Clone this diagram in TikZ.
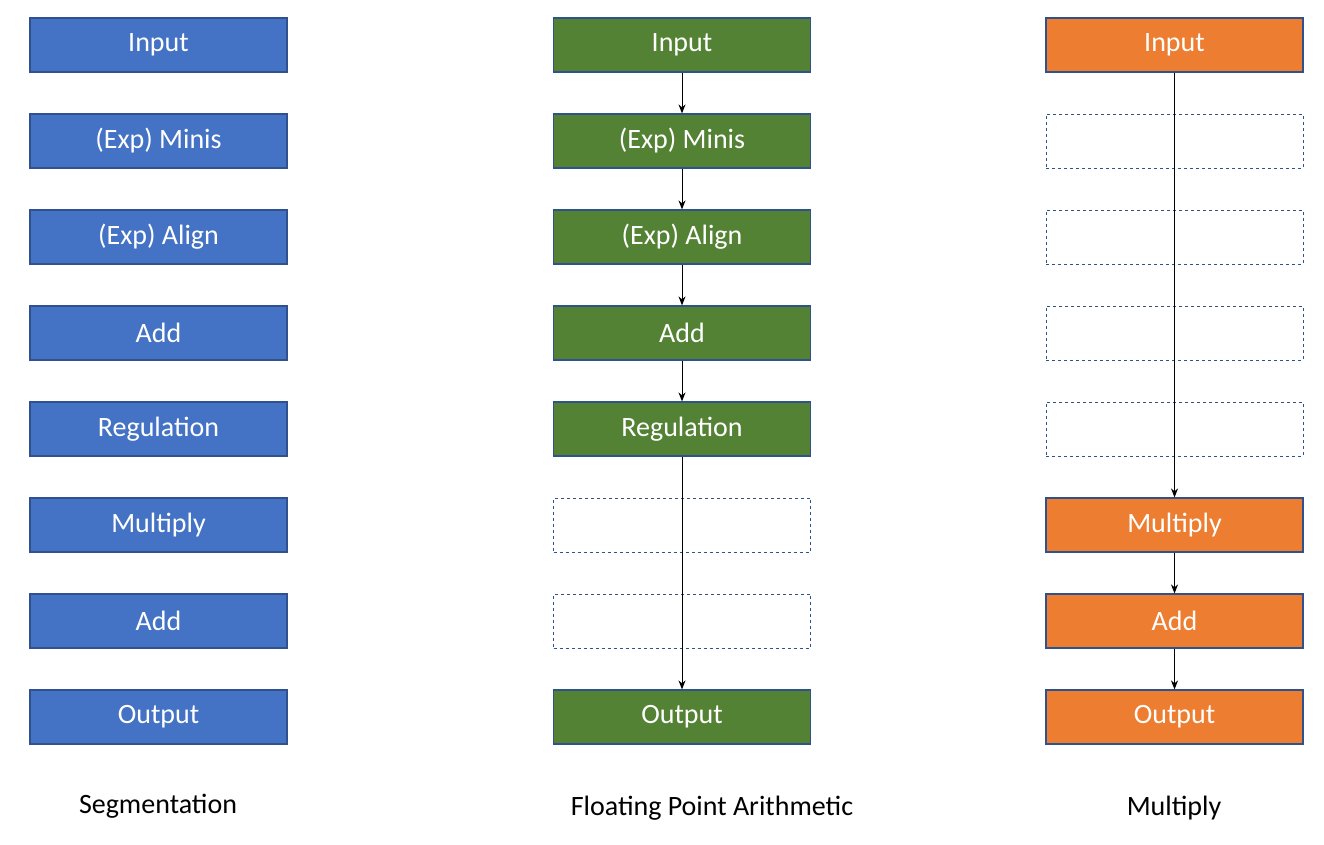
\documentclass[tikz,border=0pt]{standalone}
\usepackage{fontspec}
\setmainfont{Carlito}
\usetikzlibrary{arrows.meta}
\definecolor{cblue}{HTML}{4472C4}
\definecolor{cgreen}{HTML}{548235}
\definecolor{corange}{HTML}{ED7D31}
\definecolor{cedge}{HTML}{2F528F}
\begin{document}
\begin{tikzpicture}[x=1pt,y=-1pt,
  box/.style={draw=cedge,line width=1.2pt,minimum width=257pt,minimum height=54pt,inner sep=0pt,text=white,font=\fontsize{28}{32}\selectfont},
  bbox/.style={box,fill=cblue},
  gbox/.style={box,fill=cgreen},
  obox/.style={box,fill=corange},
  dbox/.style={box,fill=white,dashed,line width=1pt},
  lab/.style={font=\fontsize{28}{32}\selectfont},
  arr/.style={-{Stealth[length=9pt,width=7pt]},line width=1pt}]
\useasboundingbox (0,0) rectangle (1324,844);
\foreach \t [count=\i] in {Input,(Exp) Minis,(Exp) Align,Add,Regulation,Multiply,Add,Output}
  \node[bbox] (l\i) at (158.5,{45+96*(\i-1)}) {\t};
\node[gbox] (c1) at (682,45) {Input};
\node[gbox] (c2) at (682,141) {(Exp) Minis};
\node[gbox] (c3) at (682,237) {(Exp) Align};
\node[gbox] (c4) at (682,333) {Add};
\node[gbox] (c5) at (682,429) {Regulation};
\node[dbox] (c6) at (682,525) {};
\node[dbox] (c7) at (682,621) {};
\node[gbox] (c8) at (682,717) {Output};
\node[obox] (r1) at (1174.5,45) {Input};
\node[dbox] (r2) at (1174.5,141) {};
\node[dbox] (r3) at (1174.5,237) {};
\node[dbox] (r4) at (1174.5,333) {};
\node[dbox] (r5) at (1174.5,429) {};
\node[obox] (r6) at (1174.5,525) {Multiply};
\node[obox] (r7) at (1174.5,621) {Add};
\node[obox] (r8) at (1174.5,717) {Output};
\draw[arr] (c1) -- (c2);
\draw[arr] (c2) -- (c3);
\draw[arr] (c3) -- (c4);
\draw[arr] (c4) -- (c5);
\draw[arr] (c5) -- (c8);
\draw[arr] (r1) -- (r6);
\draw[arr] (r6) -- (r7);
\draw[arr] (r7) -- (r8);
\node[lab] (s1) at (158,806) {Segmentation};
\node[lab] (s2) at (712,808) {Floating Point Arithmetic};
\node[lab] (s3) at (1174,808) {Multiply};
\end{tikzpicture}
\end{document}
